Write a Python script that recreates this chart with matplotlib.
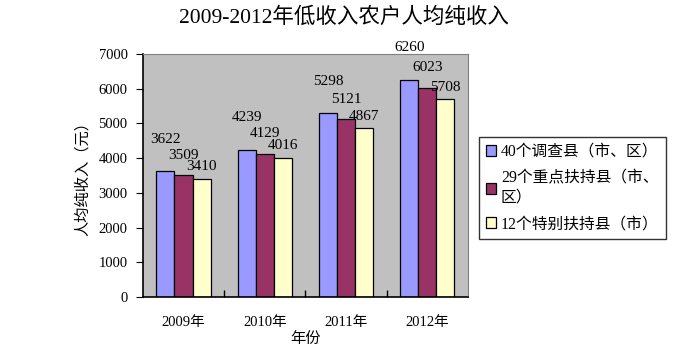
import numpy as np
import matplotlib
matplotlib.use("Agg")
import matplotlib.pyplot as plt
from matplotlib.ticker import FixedLocator, NullFormatter

plt.rcParams["font.family"] = ["Liberation Serif", "Noto Sans CJK SC"]

years = ["2009年", "2010年", "2011年", "2012年"]
series_names = ["40个调查县（市、区）", "29个重点扶持县（市、\n区）", "12个特别扶持县（市）"]
survey_40 = [3622, 4239, 5298, 6260]
key_29 = [3509, 4129, 5121, 6023]
special_12 = [3410, 4016, 4867, 5708]

colors = ["#9999FF", "#993366", "#FFFFCC"]
label_offsets = [23, 14.5, 8.5]  # points above the bar top, per series

fig = plt.figure(figsize=(6.87, 3.6), dpi=100)
ax = fig.add_axes([0.208, 0.175, 0.473, 0.675])
ax.set_facecolor("#C0C0C0")

x = np.arange(len(years))
w = 0.222
for i, vals in enumerate([survey_40, key_29, special_12]):
    pos = x + (i - 1) * w
    ax.bar(pos, vals, width=w, color=colors[i], edgecolor="black",
           linewidth=0.9, label=series_names[i], zorder=3)
    for px, v in zip(pos, vals):
        ax.annotate(str(v), (px, v), xytext=(0, label_offsets[i]),
                    textcoords="offset points", ha="center", va="center",
                    fontsize=11, zorder=4)

ax.set_xlim(-0.5, 3.5)
ax.set_ylim(0, 7000)
ax.set_yticks(range(0, 7001, 1000))
ax.tick_params(axis="y", direction="out", length=5, labelsize=10.5, pad=6)
ax.set_xticks(x)
ax.set_xticklabels(years, fontsize=10.5)
ax.tick_params(axis="x", which="major", length=0, pad=14)
ax.xaxis.set_minor_locator(FixedLocator([0.5, 1.5, 2.5]))
ax.xaxis.set_minor_formatter(NullFormatter())
ax.tick_params(axis="x", which="minor", direction="in", length=5, width=1,
               color="black")

for s in ["top", "right"]:
    ax.spines[s].set_color("#808080")
for s in ["left", "bottom"]:
    ax.spines[s].set_color("black")
    ax.spines[s].set_linewidth(1.2)
for s in ax.spines.values():
    s.set_zorder(5)
for t in ax.xaxis.get_minor_ticks():
    t.tick1line.set_zorder(6)

ax.set_ylabel("人均纯收入（元）", fontsize=11, labelpad=6)
ax.set_xlabel("年份", fontsize=11, labelpad=2)

fig.text(0.5, 0.95, "2009-2012年低收入农户人均纯收入", ha="center", va="center",
         fontsize=15.5)

leg = fig.legend(loc="upper left", bbox_to_anchor=(0.697, 0.62),
                 borderaxespad=0, fontsize=11.3, frameon=True, fancybox=False,
                 edgecolor="black", handlelength=0.65, handleheight=0.65,
                 handletextpad=0.3, labelspacing=0.7, borderpad=0.45)
leg.get_frame().set_linewidth(1.0)

fig.savefig("out.png", dpi=100)
